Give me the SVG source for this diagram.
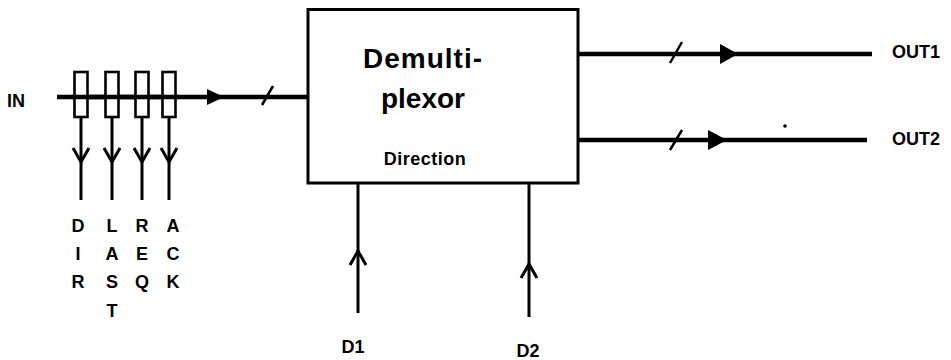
<svg xmlns="http://www.w3.org/2000/svg" width="951" height="360" viewBox="0 0 951 360">
<style>
.t{font-family:"Liberation Sans",Arial,sans-serif;font-weight:bold;fill:#000}
.w{stroke:#000;fill:none;stroke-linecap:butt}
.bus{stroke-width:4.5}
.thin{stroke-width:3}
.tap{fill:#fff;stroke:#000;stroke-width:2.6}
.head{fill:#000;stroke:none}
.v{fill:none;stroke:#000;stroke-width:3;stroke-linejoin:miter}
</style>
<rect width="951" height="360" fill="#fff"/>
<g id="connectors">
  <line class="w bus" x1="57" y1="97" x2="308" y2="97"/>
  <polygon class="head" points="207,89 224,97 207,105"/>
  <line class="w" stroke-width="2.5" x1="262" y1="105" x2="273" y2="86"/>
  <line class="w bus" x1="578" y1="54" x2="872" y2="54"/>
  <line class="w" stroke-width="2.5" x1="670" y1="63" x2="682" y2="42"/>
  <polygon class="head" points="720,44 738,54 720,64"/>
  <line class="w bus" x1="578" y1="140" x2="867" y2="140"/>
  <line class="w" stroke-width="2.5" x1="670" y1="150" x2="682" y2="130"/>
  <polygon class="head" points="708,130 727,140 708,150"/>
  <line class="w thin" x1="81" y1="117" x2="81" y2="200"/>
  <polyline class="v" points="73,148 81,162 89,148"/>
  <line class="w thin" x1="112" y1="117" x2="112" y2="200"/>
  <polyline class="v" points="104,148 112,162 120,148"/>
  <line class="w thin" x1="142" y1="117" x2="142" y2="200"/>
  <polyline class="v" points="134,148 142,162 150,148"/>
  <line class="w thin" x1="169" y1="117" x2="169" y2="200"/>
  <polyline class="v" points="161,148 169,162 177,148"/>
  <line class="w thin" x1="358" y1="183" x2="358" y2="313"/>
  <polyline class="v" points="350,265 358,251 366,265"/>
  <line class="w thin" x1="529" y1="183" x2="529" y2="317"/>
  <polyline class="v" points="521,278 529,264 537,278"/>
</g>
<g id="taps">
  <rect class="tap" x="74.5" y="72" width="13" height="45"/>
  <rect class="tap" x="105.5" y="72" width="13" height="45"/>
  <rect class="tap" x="135.5" y="72" width="13" height="45"/>
  <rect class="tap" x="162.5" y="72" width="13" height="45"/>
  <line class="w bus" x1="72" y1="97" x2="178" y2="97"/>
</g>
<g id="demux">
  <rect x="308" y="9.5" width="270" height="173.5" fill="#fff" stroke="#000" stroke-width="3"/>
  <text class="t" x="423" y="68" font-size="28" text-anchor="middle" letter-spacing="1">Demulti-</text>
  <text class="t" x="423" y="108" font-size="28" text-anchor="middle">plexor</text>
  <text class="t" x="425" y="165" font-size="18" text-anchor="middle" letter-spacing="0.5">Direction</text>
</g>
<g id="labels">
  <text class="t" x="7" y="107" font-size="18">IN</text>
  <text class="t" x="892" y="58" font-size="18">OUT1</text>
  <text class="t" x="892" y="145" font-size="18">OUT2</text>
  <text class="t" x="353" y="353" font-size="18" text-anchor="middle">D1</text>
  <text class="t" x="528" y="357" font-size="18" text-anchor="middle">D2</text>
  <g font-size="18" text-anchor="middle">
    <text class="t" x="78" y="232">D</text>
    <text class="t" x="78" y="260">I</text>
    <text class="t" x="78" y="288">R</text>
    <text class="t" x="112" y="232">L</text>
    <text class="t" x="112" y="260">A</text>
    <text class="t" x="112" y="288">S</text>
    <text class="t" x="112" y="317">T</text>
    <text class="t" x="142" y="232">R</text>
    <text class="t" x="142" y="260">E</text>
    <text class="t" x="142" y="288">Q</text>
    <text class="t" x="173" y="232">A</text>
    <text class="t" x="173" y="260">C</text>
    <text class="t" x="173" y="288">K</text>
  </g>
</g>
<circle cx="785" cy="126" r="1.8" fill="#000"/>
</svg>
